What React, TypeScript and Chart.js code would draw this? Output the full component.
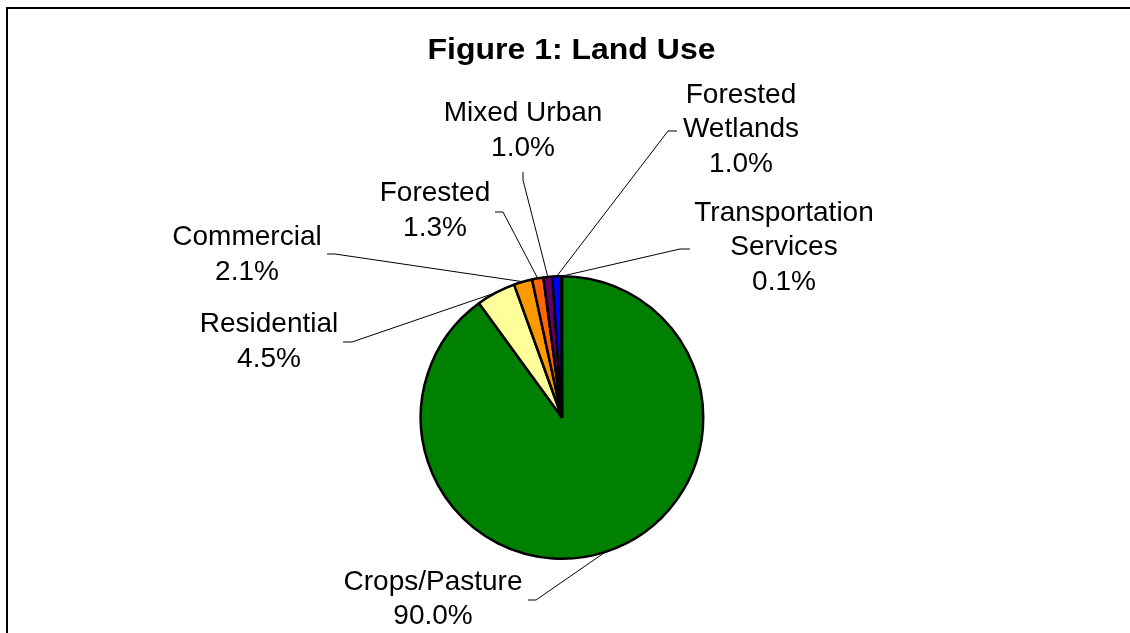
import React, { useEffect, useRef } from "react";
import { Chart, registerables } from "chart.js";

Chart.register(...registerables);

const categories = [
  "Crops/Pasture",
  "Residential",
  "Commercial",
  "Forested",
  "Mixed Urban",
  "Forested\nWetlands",
  "Transportation\nServices",
];
const landUsePct = [90.0, 4.5, 2.1, 1.3, 1.0, 1.0, 0.1];
const sliceColors = ["#008000", "#FFFF99", "#FF9900", "#FF6600", "#660066", "#0000FF", "#800000"];

// label block centre, leader start, leader elbow: offsets from the pie centre (px)
const labelCenter = [
  [-129, 181.7],
  [-293, -75.5],
  [-315, -162.5],
  [-127, -207],
  [-39, -286.7],
  [179, -287.9],
  [222, -169.9],
];
const leaderStart = [
  [-34, 182.5],
  [-219, -75.5],
  [-235, -163.5],
  [-67, -205.5],
  [-39, -245.5],
  [115, -286.5],
  [128, -168.5],
];
const leaderElbow = [
  [-26, 182.5],
  [-210, -75.5],
  [-227, -163.5],
  [-59, -205.5],
  [-39, -237.5],
  [106, -286.5],
  [118, -168.5],
];

const FONT = "'Liberation Sans', Arial, sans-serif";
const TITLE = "Figure 1: Land Use";

const labelPlugin = {
  id: "leaderLabels",
  afterDatasetsDraw(chart: any) {
    const ctx = chart.ctx;
    const meta = chart.getDatasetMeta(0);
    ctx.save();
    // title
    ctx.font = `bold 30px ${FONT}`;
    ctx.fillStyle = "#000";
    ctx.textBaseline = "alphabetic";
    ctx.textAlign = "center";
    const tw = ctx.measureText(TITLE).width;
    const sx = 288 / tw;
    ctx.save();
    ctx.translate(571.5, 59);
    ctx.scale(sx, 1);
    ctx.fillText(TITLE, 0, 0);
    ctx.restore();

    meta.data.forEach((arc: any, i: number) => {
      const p = arc.getProps(["x", "y", "startAngle", "endAngle", "outerRadius"], true);
      const mid = (p.startAngle + p.endAngle) / 2;
      const ex = p.x + Math.cos(mid) * p.outerRadius;
      const ey = p.y + Math.sin(mid) * p.outerRadius;
      ctx.beginPath();
      ctx.strokeStyle = "#000";
      ctx.lineWidth = 1;
      ctx.moveTo(p.x + leaderStart[i][0], p.y + leaderStart[i][1]);
      ctx.lineTo(p.x + leaderElbow[i][0], p.y + leaderElbow[i][1]);
      ctx.lineTo(ex, ey);
      ctx.stroke();

      const lines = [...categories[i].split("\n"), landUsePct[i].toFixed(1) + "%"];
      const lh = 34.8;
      const cx = p.x + labelCenter[i][0];
      const cy = p.y + labelCenter[i][1];
      ctx.font = `28px ${FONT}`;
      ctx.textAlign = "center";
      ctx.textBaseline = "middle";
      ctx.fillStyle = "#000";
      lines.forEach((t, k) => {
        ctx.fillText(t, cx, cy + (k - (lines.length - 1) / 2) * lh);
      });
    });
    ctx.restore();
  },
};

export default function App() {
  const ref = useRef<HTMLCanvasElement>(null);
  useEffect(() => {
    if (!ref.current) return;
    const chart = new Chart(ref.current, {
      type: "pie",
      data: {
        labels: categories,
        datasets: [
          {
            data: landUsePct,
            backgroundColor: sliceColors,
            borderColor: "#000",
            borderWidth: 2.5,
          },
        ],
      },
      options: {
        responsive: false,
        animation: false,
        layout: { padding: { left: 0, right: 6, top: 275, bottom: 73 } },
        plugins: {
          legend: { display: false },
          title: { display: false },
          tooltip: { enabled: false },
        },
      },
      plugins: [labelPlugin],
    });
    return () => chart.destroy();
  }, []);
  return (
    <div style={{ position: "fixed", left: 0, top: 0, width: 1130, height: 633, overflow: "hidden", background: "#fff" }}>
      <div
        style={{
          position: "absolute",
          left: 6,
          top: 7,
          width: 1200,
          height: 700,
          borderTop: "2px solid #000",
          borderLeft: "2px solid #000",
        }}
      />
      <canvas ref={ref} width={1130} height={633} style={{ position: "absolute", left: 0, top: 0, width: 1130, height: 633 }} />
    </div>
  );
}
